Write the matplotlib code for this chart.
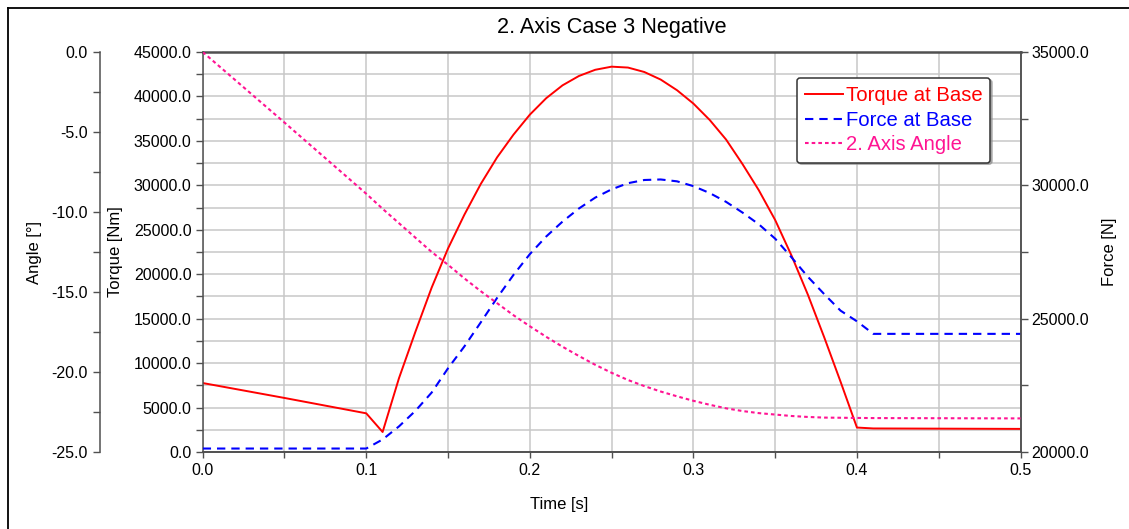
import matplotlib
matplotlib.use("Agg")
import matplotlib.pyplot as plt
from matplotlib.ticker import MultipleLocator, FormatStrFormatter
from matplotlib.lines import Line2D

plt.rcParams['font.family'] = ['Liberation Sans', 'DejaVu Sans']
plt.rcParams['lines.scale_dashes'] = False

# Sampled simulation results
time_s = [0.00, 0.05, 0.10, 0.11, 0.12, 0.13, 0.14, 0.15, 0.16, 0.17, 0.18, 0.19,
          0.20, 0.21, 0.22, 0.23, 0.24, 0.25, 0.26, 0.27, 0.28, 0.29, 0.30, 0.31,
          0.32, 0.33, 0.34, 0.35, 0.36, 0.37, 0.38, 0.39, 0.40, 0.41, 0.50]

torque_nm = [7760, 6080, 4350, 2250, 8300, 13500, 18500, 22900, 26700, 30150,
             33150, 35700, 37950, 39800, 41250, 42300, 43000, 43350, 43250, 42750,
             41900, 40700, 39200, 37350, 35150, 32400, 29450, 26100, 22100, 17700,
             12900, 7900, 2750, 2650, 2600]

force_n = [20130, 20130, 20130, 20470, 20960, 21540, 22230, 23140, 23960, 24860,
           25780, 26640, 27420, 28080, 28640, 29130, 29540, 29850, 30080, 30200,
           30220, 30150, 29970, 29710, 29380, 28980, 28540, 28000, 27300, 26570,
           25920, 25300, 24900, 24430, 24430]

angle_deg = [0.0, -4.41, -8.86, -9.8, -10.7, -11.6, -12.5, -13.3, -14.15, -14.95,
             -15.7, -16.45, -17.14, -17.8, -18.42, -19.0, -19.55, -20.05, -20.5,
             -20.88, -21.22, -21.52, -21.8, -22.05, -22.27, -22.44, -22.57, -22.66,
             -22.75, -22.81, -22.85, -22.86, -22.87, -22.88, -22.9]

title = "2. Axis Case 3 Negative"
labels = ["Torque at Base", "Force at Base", "2. Axis Angle"]
colors = ["#ff0000", "#0000ff", "#ff1493"]

W, H = 1129, 529
fig = plt.figure(figsize=(W / 100, H / 100), dpi=100)
ax = fig.add_axes([202.7 / W, 77 / H, 817.8 / W, 400 / H])
ax_f = ax.twinx()
ax_a = ax.twinx()

spine_c = "#505050"
tick_fs = 11.5
label_fs = 12

# Main torque axis
ax.set_xlim(0, 0.5)
ax.set_ylim(0, 45000)
ax.xaxis.set_major_locator(MultipleLocator(0.1))
ax.xaxis.set_minor_locator(MultipleLocator(0.05))
ax.yaxis.set_major_locator(MultipleLocator(5000))
ax.yaxis.set_minor_locator(MultipleLocator(2500))
ax.xaxis.set_major_formatter(FormatStrFormatter('%.1f'))
ax.yaxis.set_major_formatter(FormatStrFormatter('%.1f'))
ax.grid(True, which='both', color='#c8c8c8', lw=1.1)
ax.set_axisbelow(True)
for s in ax.spines.values():
    s.set_color(spine_c)
    s.set_linewidth(1.1)
ax.spines['top'].set_linewidth(1.8)
ax.spines['bottom'].set_linewidth(1.4)
ax.tick_params(axis='y', which='both', direction='out', length=5, width=1,
               color=spine_c, labelsize=tick_fs, pad=3)
ax.tick_params(axis='x', which='both', direction='out', length=4, width=1,
               color=spine_c, labelsize=tick_fs, pad=4)
ax.plot(time_s, torque_nm, color=colors[0], lw=1.4, label=labels[0])
ax.set_ylabel("Torque [Nm]", fontsize=label_fs)
ax.yaxis.set_label_coords(-0.0975, 0.5)
ax.set_xlabel("Time [s]", fontsize=label_fs)
ax.xaxis.set_label_coords(0.4357, -0.112)
ax.set_title(title, fontsize=15.6, pad=14)

# Force axis on the right
ax_f.set_ylim(20000, 35000)
ax_f.yaxis.set_major_locator(MultipleLocator(5000))
ax_f.yaxis.set_minor_locator(MultipleLocator(2500))
ax_f.yaxis.set_major_formatter(FormatStrFormatter('%.1f'))
for s in ['left', 'top', 'bottom']:
    ax_f.spines[s].set_visible(False)
ax_f.spines['right'].set_color(spine_c)
ax_f.spines['right'].set_linewidth(1.1)
ax_f.tick_params(axis='y', which='both', direction='out', length=5, width=1,
                 color=spine_c, labelsize=tick_fs, pad=3)
ax_f.plot(time_s, force_n, color=colors[1], lw=1.5, dashes=(6, 4.3),
          label=labels[1])
ax_f.set_ylabel("Force [N]", fontsize=label_fs)
ax_f.yaxis.set_label_coords(1.0995, 0.5)

# Angle axis, offset to the far left
ax_a.set_ylim(-25, 0)
ax_a.spines['left'].set_position(('outward', 102.7 * 72 / 100))
ax_a.spines['left'].set_visible(True)
ax_a.spines['left'].set_color(spine_c)
ax_a.spines['left'].set_linewidth(1.1)
for s in ['right', 'top', 'bottom']:
    ax_a.spines[s].set_visible(False)
ax_a.yaxis.set_ticks_position('left')
ax_a.yaxis.set_label_position('left')
ax_a.yaxis.set_major_locator(MultipleLocator(5))
ax_a.yaxis.set_minor_locator(MultipleLocator(2.5))
ax_a.yaxis.set_major_formatter(FormatStrFormatter('%.1f'))
ax_a.tick_params(axis='y', which='both', direction='out', length=5, width=1,
                 color=spine_c, labelsize=tick_fs, pad=4)
ax_a.plot(time_s, angle_deg, color=colors[2], lw=1.5, dashes=(2.6, 2.2),
          label=labels[2])
ax_a.set_ylabel("Angle [°]", fontsize=label_fs)
ax_a.yaxis.set_label_coords(-0.1965, 0.5)

# Combined legend
handles = ax.get_lines() + ax_f.get_lines() + ax_a.get_lines()
leg = ax_a.legend(handles, labels, loc='upper left',
                  bbox_to_anchor=(0.7267, 0.935), borderaxespad=0,
                  fontsize=14.6, handlelength=1.85, handletextpad=0.15,
                  labelspacing=0.28, borderpad=0.4, fancybox=True,
                  framealpha=1, edgecolor='#333333',
                  shadow={'ox': 1.2, 'oy': -1.2, 'color': '0.55', 'alpha': 0.6})
leg.get_frame().set_linewidth(1.1)
leg.get_frame().set_boxstyle('round', pad=0, rounding_size=0.15)
for txt, c in zip(leg.get_texts(), colors):
    txt.set_color(c)

# Outer frame of the figure
fig.add_artist(Line2D([7.5 / W, 7.5 / W], [0, 1 - 7.5 / H], transform=fig.transFigure,
                      color='black', lw=1.3))
fig.add_artist(Line2D([7.5 / W, 1], [1 - 7.5 / H, 1 - 7.5 / H], transform=fig.transFigure,
                      color='black', lw=1.3))

fig.savefig("out.png", dpi=100)
